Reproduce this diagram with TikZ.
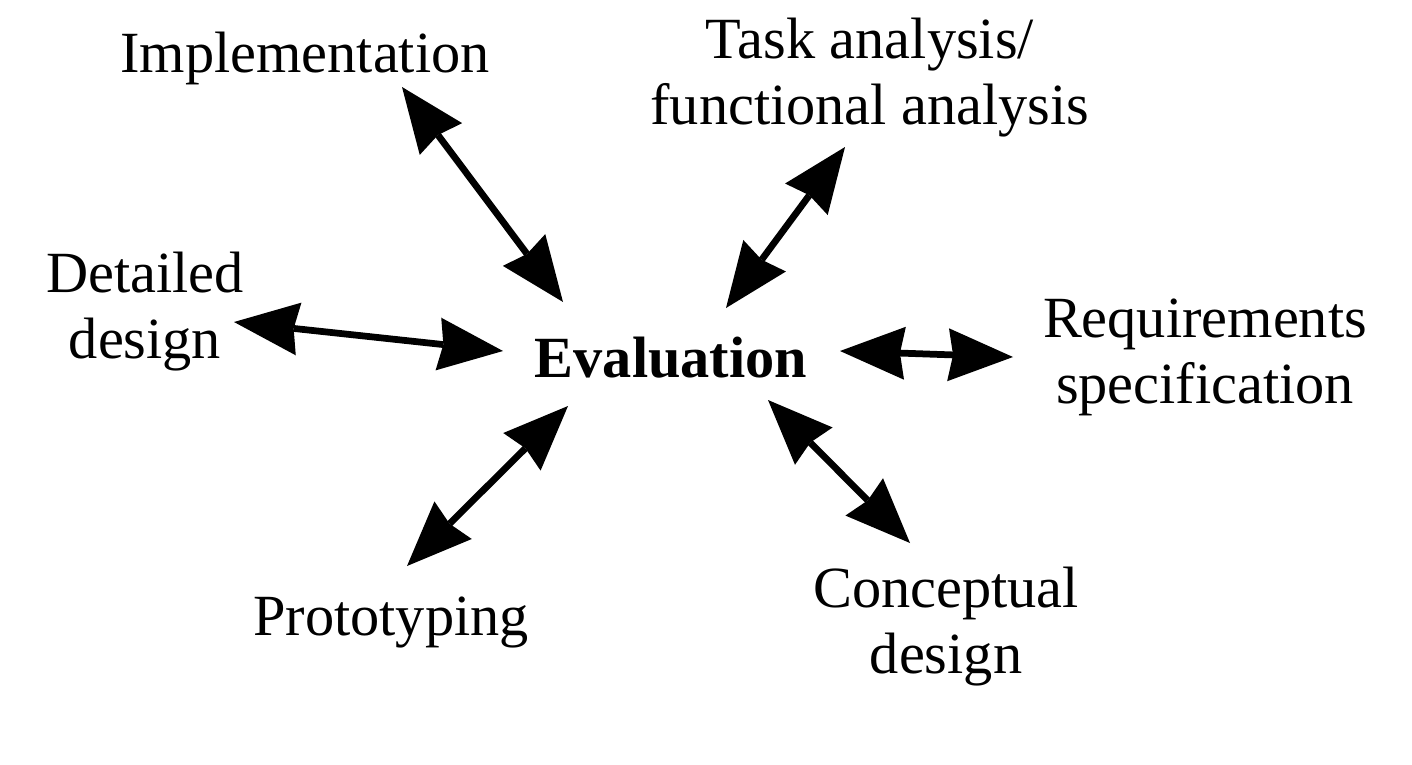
\documentclass[tikz,border=0pt]{standalone}
\usepackage{fontspec}
\setmainfont{Liberation Serif}
\usetikzlibrary{arrows.meta}

\begin{document}
\begin{tikzpicture}[x=0.02cm,y=-0.02cm,
	phase/.style={font=\fontsize{33.2}{37.5}\selectfont, align=center, inner sep=0pt, anchor=base},
	link/.style={line width=0.135cm, {Stealth[length=1.3cm,width=1.06cm,inset=0.1cm,line width=0pt]}-{Stealth[length=1.3cm,width=1.06cm,inset=0.1cm,line width=0pt]}}]
	\useasboundingbox (0,0) rectangle (1412,764);
	% phases round the centre (base = last line)
	\node[phase, font=\fontsize{33.2}{37.5}\selectfont\bfseries] (eval) at (671,377) {Evaluation};
	\node[phase] (impl) at (305,72) {Implementation};
	\node[phase] (task) at (870,124) {Task analysis/\\functional analysis};
	\node[phase] (det) at (145,358) {Detailed\\design};
	\node[phase] (req) at (1205,403) {Requirements\\specification};
	\node[phase] (proto) at (391,635) {Prototyping};
	\node[phase] (conc) at (946,673) {Conceptual\\design};
	% arrow ends
	\coordinate (impl-out) at (402,87);
	\coordinate (impl-in) at (563,302);
	\coordinate (task-out) at (845,147);
	\coordinate (task-in) at (726,308);
	\coordinate (det-out) at (234,322);
	\coordinate (det-in) at (503,351);
	\coordinate (req-out) at (1013,357);
	\coordinate (req-in) at (840,351);
	\coordinate (proto-out) at (407,566);
	\coordinate (proto-in) at (568,406);
	\coordinate (conc-out) at (910,543);
	\coordinate (conc-in) at (768,400);
	\draw[link] (impl-out) -- (impl-in);
	\draw[link] (task-in) -- (task-out);
	\draw[link] (det-out) -- (det-in);
	\draw[link] (req-in) -- (req-out);
	\draw[link] (proto-out) -- (proto-in);
	\draw[link] (conc-in) -- (conc-out);
\end{tikzpicture}
\end{document}
